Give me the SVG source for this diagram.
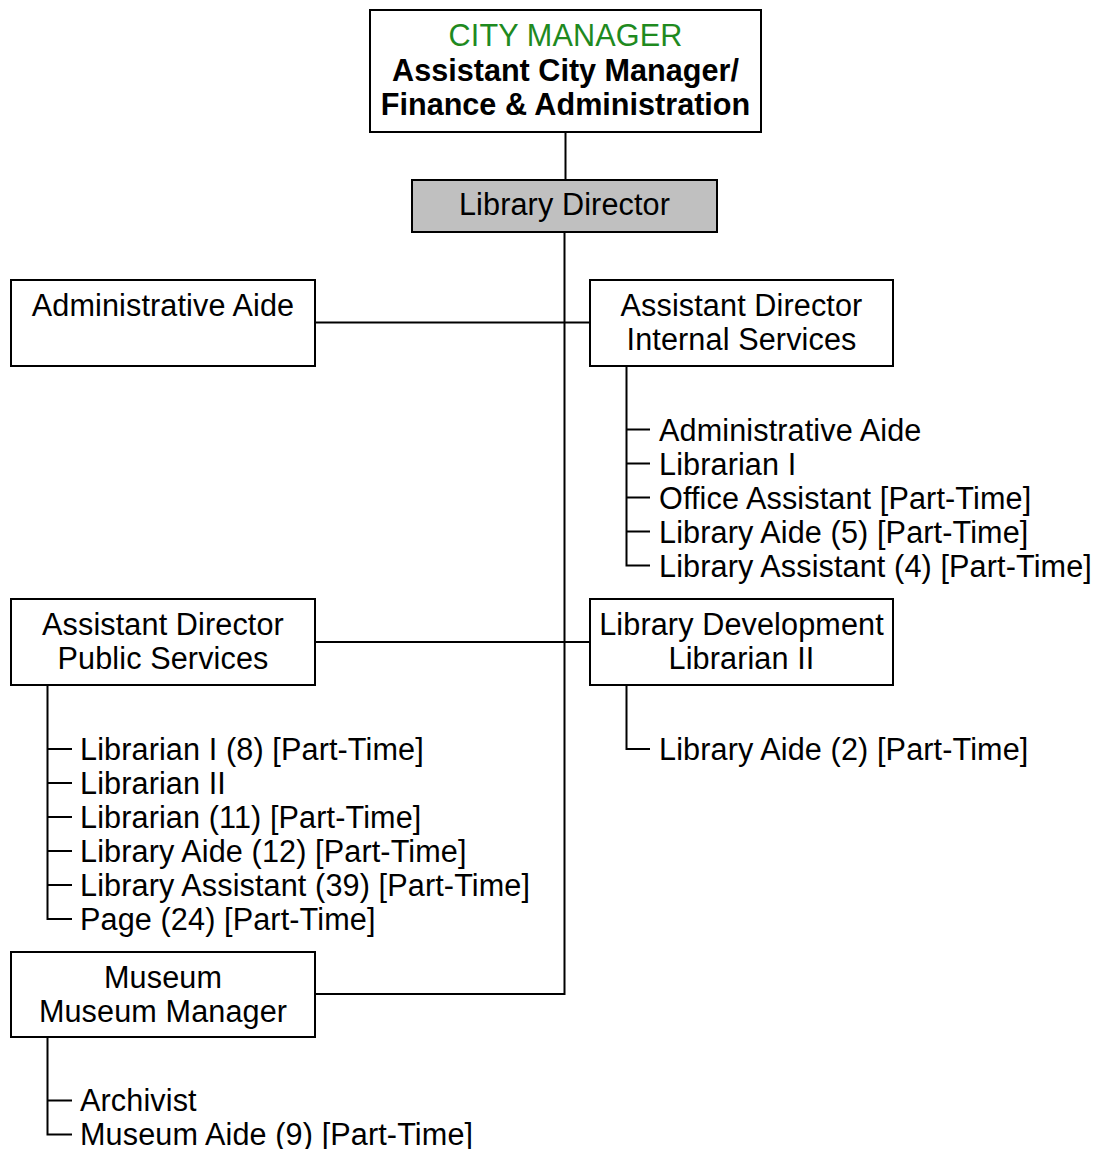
<svg xmlns="http://www.w3.org/2000/svg" width="1098" height="1149" viewBox="0 0 1098 1149">
<style>
.box{fill:#fff;stroke:#000;stroke-width:2}
.dir{fill:#c0c0c0;stroke:#000;stroke-width:2}
.t{font-family:"Liberation Sans",Arial,sans-serif;font-size:30.6px;fill:#000;letter-spacing:0.12px}
.c{text-anchor:middle}
.b{font-weight:bold;letter-spacing:0}
.g{fill:#1f8a1f}
.ln{fill:none;stroke:#000;stroke-width:2}
</style>
<rect width="1098" height="1149" fill="#fff"/>
<g id="connectors">
<path class="ln" d="M565.5 132V180"/>
<path class="ln" d="M564.5 232V994H315"/>
<path class="ln" d="M315 322.5H590"/>
<path class="ln" d="M315 642H590"/>
<path class="ln" d="M626.5 366V565.5H650M626.5 429.5H650M626.5 463.5H650M626.5 497.5H650M626.5 531.5H650"/>
<path class="ln" d="M626.5 685V749H650"/>
<path class="ln" d="M47.5 685V919H72M47.5 749H72M47.5 783H72M47.5 817H72M47.5 851H72M47.5 885H72"/>
<path class="ln" d="M47.5 1037V1134.5H72M47.5 1100.5H72"/>
</g>
<g id="city-manager">
<rect class="box" x="370" y="10" width="391" height="122"/>
<text class="t c g" x="565.5" y="46">CITY MANAGER</text>
<text class="t c b" x="565.5" y="81">Assistant City Manager/</text>
<text class="t c b" x="565.5" y="115">Finance &amp; Administration</text>
</g>
<g id="library-director">
<rect class="dir" x="412" y="180" width="305" height="52"/>
<text class="t c" x="564.5" y="215">Library Director</text>
</g>
<g id="administrative-aide">
<rect class="box" x="11" y="280" width="304" height="86"/>
<text class="t c" x="163" y="316">Administrative Aide</text>
</g>
<g id="asst-dir-internal">
<rect class="box" x="590" y="280" width="303" height="86"/>
<text class="t c" x="741.5" y="316">Assistant Director</text>
<text class="t c" x="741.5" y="350">Internal Services</text>
</g>
<g id="internal-staff">
<text class="t" x="659" y="441">Administrative Aide</text>
<text class="t" x="659" y="475">Librarian I</text>
<text class="t" x="659" y="509">Office Assistant [Part-Time]</text>
<text class="t" x="659" y="543">Library Aide (5) [Part-Time]</text>
<text class="t" x="659" y="577">Library Assistant (4) [Part-Time]</text>
</g>
<g id="asst-dir-public">
<rect class="box" x="11" y="599" width="304" height="86"/>
<text class="t c" x="163" y="635">Assistant Director</text>
<text class="t c" x="163" y="669">Public Services</text>
</g>
<g id="library-development">
<rect class="box" x="590" y="599" width="303" height="86"/>
<text class="t c" x="741.5" y="635">Library Development</text>
<text class="t c" x="741.5" y="669">Librarian II</text>
</g>
<g id="development-staff">
<text class="t" x="659" y="760">Library Aide (2) [Part-Time]</text>
</g>
<g id="public-staff">
<text class="t" x="80" y="760">Librarian I (8) [Part-Time]</text>
<text class="t" x="80" y="794">Librarian II</text>
<text class="t" x="80" y="828">Librarian (11) [Part-Time]</text>
<text class="t" x="80" y="862">Library Aide (12) [Part-Time]</text>
<text class="t" x="80" y="896">Library Assistant (39) [Part-Time]</text>
<text class="t" x="80" y="930">Page (24) [Part-Time]</text>
</g>
<g id="museum">
<rect class="box" x="11" y="952" width="304" height="85"/>
<text class="t c" x="163" y="988">Museum</text>
<text class="t c" x="163" y="1022">Museum Manager</text>
</g>
<g id="museum-staff">
<text class="t" x="80" y="1111">Archivist</text>
<text class="t" x="80" y="1145">Museum Aide (9) [Part-Time]</text>
</g>
</svg>
